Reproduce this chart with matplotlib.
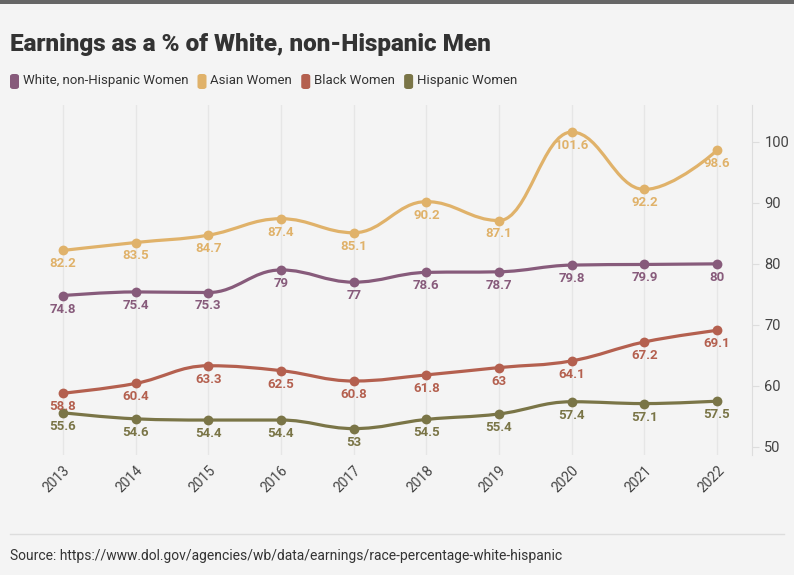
import numpy as np
import matplotlib.pyplot as plt
from matplotlib.path import Path
from matplotlib.patches import PathPatch, FancyBboxPatch

years = [2013, 2014, 2015, 2016, 2017, 2018, 2019, 2020, 2021, 2022]
white_women = [74.8, 75.4, 75.3, 79, 77, 78.6, 78.7, 79.8, 79.9, 80]
asian_women = [82.2, 83.5, 84.7, 87.4, 85.1, 90.2, 87.1, 101.6, 92.2, 98.6]
black_women = [58.8, 60.4, 63.3, 62.5, 60.8, 61.8, 63, 64.1, 67.2, 69.1]
hispanic_women = [55.6, 54.6, 54.4, 54.4, 53, 54.5, 55.4, 57.4, 57.1, 57.5]

series_names = ["White, non-Hispanic Women", "Asian Women", "Black Women", "Hispanic Women"]
series_values = [white_women, asian_women, black_women, hispanic_women]
colors = ["#875b7b", "#e0b26a", "#b4604f", "#7a7547"]

BG = "#f4f4f4"
COND = ["DejaVu Sans Condensed", "Roboto"]
plt.rcParams["font.family"] = ["Roboto", "DejaVu Sans"]


def spline_path(xs, ys):
    # highcharts-like spline: bezier with control arms at 0.4 of each segment
    n = len(xs)
    lc = [(xs[i], ys[i]) for i in range(n)]
    rc = [(xs[i], ys[i]) for i in range(n)]
    s = 1.5
    d = s + 1
    for i in range(1, n - 1):
        x0, y0 = xs[i - 1], ys[i - 1]
        x1, y1 = xs[i], ys[i]
        x2, y2 = xs[i + 1], ys[i + 1]
        lcx = (s * x1 + x0) / d
        lcy = (s * y1 + y0) / d
        rcx = (s * x1 + x2) / d
        rcy = (s * y1 + y2) / d
        corr = ((rcy - lcy) * (rcx - x1)) / (rcx - lcx) + y1 - rcy
        lcy += corr
        rcy += corr
        if lcy > y0 and lcy > y1:
            lcy = max(y0, y1)
            rcy = 2 * y1 - lcy
        elif lcy < y0 and lcy < y1:
            lcy = min(y0, y1)
            rcy = 2 * y1 - lcy
        if rcy > y2 and rcy > y1:
            rcy = max(y2, y1)
            lcy = 2 * y1 - rcy
        elif rcy < y2 and rcy < y1:
            rcy = min(y2, y1)
            lcy = 2 * y1 - rcy
        lc[i] = (lcx, lcy)
        rc[i] = (rcx, rcy)
    verts = [(xs[0], ys[0])]
    codes = [Path.MOVETO]
    for i in range(n - 1):
        verts += [rc[i], lc[i + 1], (xs[i + 1], ys[i + 1])]
        codes += [Path.CURVE4] * 3
    return Path(verts, codes)


fig = plt.figure(figsize=(7.94, 5.75), dpi=100, facecolor=BG)
ax = fig.add_axes([0.050, 0.209, 0.897, 0.608], facecolor=BG)

for name, vals, c in zip(series_names, series_values, colors):
    patch = PathPatch(spline_path(years, vals), facecolor="none", edgecolor=c,
                      lw=2.3, capstyle="round", joinstyle="round", zorder=3)
    ax.add_patch(patch)
    ax.scatter(years, vals, s=50, color=c, zorder=4, linewidths=0)
    for x, y in zip(years, vals):
        ax.annotate(f"{y:g}", (x, y), xytext=(0, -5), textcoords="offset points",
                    ha="center", va="top", fontsize=9.5, fontweight="bold",
                    color=c, family=COND, zorder=5)

ax.set_xlim(2012.68, 2022.48)
ax.set_ylim(48.7, 106)
ax.set_xticks(years)
ax.set_xticklabels([str(y) for y in years], rotation=45, ha="right",
                   rotation_mode="anchor", fontsize=10, color="#444444",
                   family=COND)
ax.tick_params(axis="x", length=0, pad=6)
ax.set_yticks([50, 60, 70, 80, 90, 100])
ax.yaxis.tick_right()
ax.tick_params(axis="y", length=5, color="#dddddd", labelsize=10.5,
               labelcolor="#444444", pad=4)
for lab in ax.get_yticklabels():
    lab.set_family(COND)
ax.grid(axis="x", color="#e6e6e6", lw=1)
ax.grid(axis="y", visible=False)
for side in ["top", "bottom", "left"]:
    ax.spines[side].set_visible(False)
ax.spines["right"].set_color("#dddddd")

# top bar
fig.add_artist(plt.Rectangle((0, 1 - 4 / 575), 1, 4 / 575, transform=fig.transFigure,
                             color="#666666", lw=0))

fig.text(10 / 794, 1 - 45 / 575, "Earnings as a % of White, non-Hispanic Men",
         fontsize=17.5, fontweight="heavy", color="#333333", va="center", ha="left")

# legend
lx = 10
for name, c in zip(series_names, colors):
    fig.add_artist(FancyBboxPatch((lx / 794, 1 - 89 / 575), 9 / 794, 15 / 575,
                                  boxstyle="round,pad=0,rounding_size=0.004",
                                  transform=fig.transFigure, color=c, lw=0))
    t = fig.text((lx + 13) / 794, 1 - 81 / 575, name, fontsize=9.5, color="#333333",
                 va="center", ha="left")
    fig.canvas.draw()
    bb = t.get_window_extent()
    lx = bb.x1 + 9

fig.add_artist(plt.Line2D([10 / 794, 784 / 794], [1 - 534 / 575, 1 - 534 / 575],
                          transform=fig.transFigure, color="#dddddd", lw=1))
fig.text(10 / 794, 1 - 556 / 575,
         "Source: https://www.dol.gov/agencies/wb/data/earnings/race-percentage-white-hispanic",
         fontsize=10, color="#333333", va="center", ha="left", family=COND)

fig.savefig("out.png", dpi=100, facecolor=BG)
